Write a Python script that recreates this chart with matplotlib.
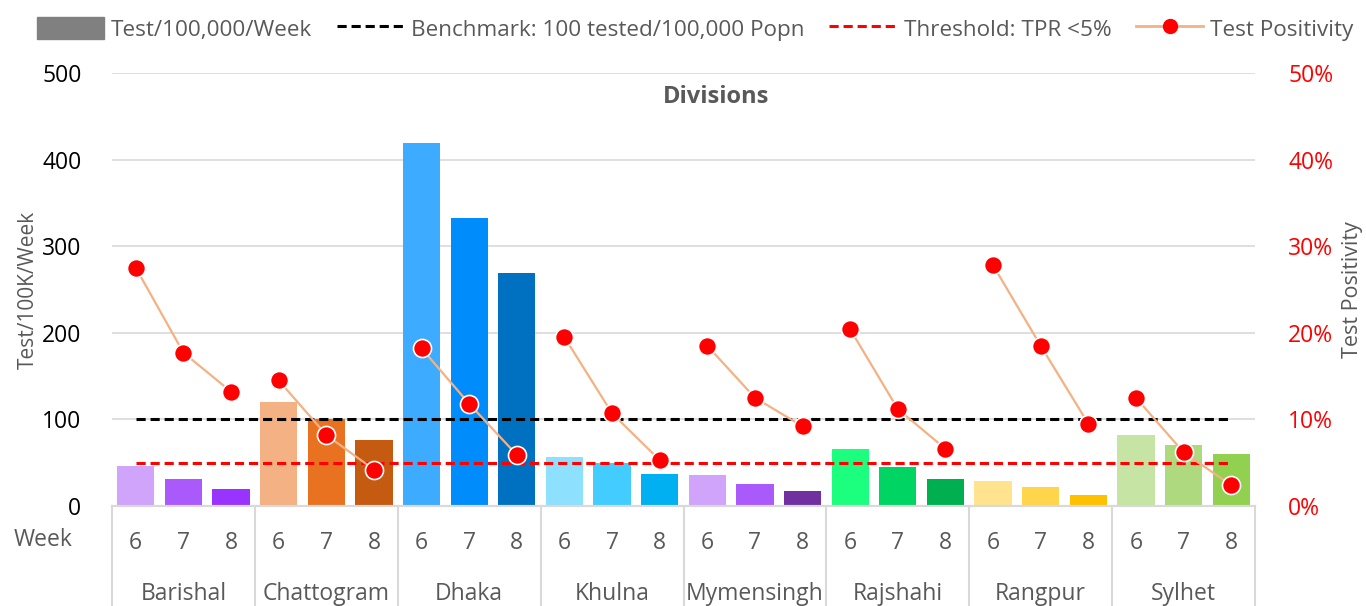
import matplotlib
import numpy as np
from matplotlib import pyplot as plt
from matplotlib.lines import Line2D
from matplotlib.patches import Patch
from matplotlib.ticker import FuncFormatter
import matplotlib.transforms as mtransforms

matplotlib.use("agg")
plt.rcParams["font.family"] = ["Open Sans", "DejaVu Sans"]

divisions = ["Barishal", "Chattogram", "Dhaka", "Khulna", "Mymensingh", "Rajshahi", "Rangpur", "Sylhet"]
weeks = ["6", "7", "8"]

# tests per 100,000 per week, three weeks per division
tests = [46, 31, 20,
         120, 100, 76,
         419, 333, 269,
         57, 50, 37,
         36, 25, 17,
         66, 45, 31,
         29, 22, 13,
         82, 70, 60]

# test positivity rate (fraction)
tpr = [0.275, 0.177, 0.132,
       0.145, 0.082, 0.042,
       0.182, 0.118, 0.059,
       0.195, 0.107, 0.053,
       0.185, 0.125, 0.092,
       0.204, 0.112, 0.066,
       0.278, 0.185, 0.095,
       0.125, 0.062, 0.024]

bar_colors = ["#D0A4FB", "#AA5AFA", "#9933FF",
              "#F4B183", "#E97221", "#C55A11",
              "#3DABFF", "#008CFA", "#0070C0",
              "#8EE0FF", "#43CCFF", "#00B0F0",
              "#D0A4FB", "#AA5AFA", "#7030A0",
              "#1CFF7E", "#00D462", "#00B050",
              "#FFE48D", "#FFD54B", "#FFC000",
              "#C6E5A4", "#AED97E", "#92D050"]

benchmark = 100
threshold = 0.05

grey = "#595959"
W, H = 1366, 606
fs = 16.5

fig = plt.figure(figsize=(W / 100, H / 100), dpi=100)
ax = fig.add_axes([112 / W, 100 / H, 1143 / W, 433 / H])
ax2 = ax.twinx()

x = np.arange(len(tests))
ax.bar(x, tests, width=0.78, color=bar_colors, zorder=2)
ax.plot([x[0], x[-1]], [benchmark, benchmark], color="black", lw=2.2, ls=(0, (3, 1.6)), zorder=3)
ax.plot([x[0], x[-1]], [threshold * 1000, threshold * 1000], color="red", lw=2.2, ls=(0, (3, 1.6)), zorder=3)

for i in range(len(divisions)):
    s = slice(i * 3, i * 3 + 3)
    ax2.plot(x[s], tpr[s], color="#F4B183", lw=1.6, marker="o", ms=13,
             mfc="red", mec="white", mew=1.2, zorder=4)

ax.set_xlim(-0.5, len(tests) - 0.5)
ax.set_ylim(0, 500)
ax2.set_ylim(0, 0.5)
ax.set_yticks(range(0, 501, 100))
ax2.set_yticks(np.arange(0, 0.51, 0.1))
ax2.yaxis.set_major_formatter(FuncFormatter(lambda v, p: f"{v * 100:.0f}%"))

ax.grid(axis="y", color="#D9D9D9", lw=1.2, zorder=0)
ax.set_axisbelow(True)
for a in (ax, ax2):
    for sp in ("top", "left", "right"):
        a.spines[sp].set_visible(False)
    a.spines["bottom"].set_color("#D9D9D9")
    a.spines["bottom"].set_linewidth(1.5)

ax.tick_params(axis="y", length=0, labelsize=fs, labelcolor="black", pad=22)
ax2.tick_params(axis="y", length=0, labelsize=fs, labelcolor="red", pad=24)
ax.set_xticks(x)
ax.set_xticklabels(weeks * len(divisions))
ax.tick_params(axis="x", length=0, labelsize=fs, labelcolor=grey, pad=18)

ax.set_ylabel("Test/100K/Week", fontsize=15, color=grey, labelpad=2)
ax2.set_ylabel("Test Positivity", fontsize=15.5, color=grey, labelpad=6)

# category separators and division labels below the axis
trans = mtransforms.blended_transform_factory(ax.transData, ax.transAxes)
for i in range(len(divisions) + 1):
    ax.add_line(Line2D([i * 3 - 0.5, i * 3 - 0.5], [0, -100 / 433], transform=trans,
                       color="#D9D9D9", lw=1.5, clip_on=False))
for i, d in enumerate(divisions):
    ax.text(i * 3 + 1, -88 / 433, d, transform=trans, ha="center", va="center",
            fontsize=fs, color=grey)

fig.text(43 / W, 1 - 540 / H, "Week", ha="center", va="center", fontsize=fs, color=grey)
fig.text(716 / W, 1 - 97 / H, "Divisions", ha="center", va="center", fontsize=17,
         fontweight="bold", color=grey)

handles = [
    Patch(color="#808080"),
    Line2D([], [], color="black", lw=2.2, ls=(0, (3, 1.6))),
    Line2D([], [], color="red", lw=2.2, ls=(0, (3, 1.6))),
    Line2D([], [], color="#F4B183", lw=2, marker="o", ms=10, mfc="red", mec="red"),
]
labels = ["Test/100,000/Week", "Benchmark: 100 tested/100,000 Popn", "Threshold: TPR <5%", "Test Positivity"]
leg = fig.legend(handles, labels, loc="center", bbox_to_anchor=(695 / W, 1 - 29 / H), ncol=4,
                 frameon=False, fontsize=16.2, handlelength=3.0, handleheight=1.15,
                 handletextpad=0.3, columnspacing=1.1)
for t in leg.get_texts():
    t.set_color(grey)

fig.savefig("out.png", dpi=100)
